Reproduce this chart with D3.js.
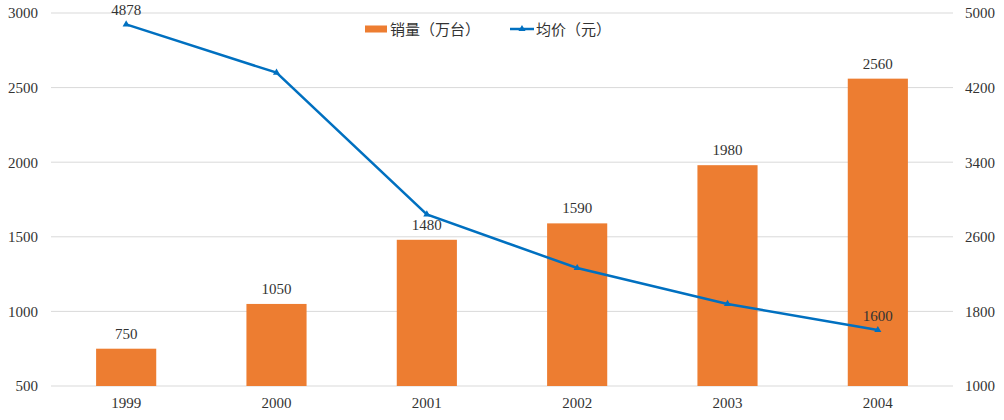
<!DOCTYPE html>
<html>
<head>
<meta charset="utf-8">
<script src="https://cdn.jsdelivr.net/npm/d3@7"></script>
<style>
  body { margin: 0; background: #fff; }
</style>
</head>
<body>
<div id="container"></div>
<script>
// data
let years = ["1999", "2000", "2001", "2002", "2003", "2004"];
let sales = [750, 1050, 1480, 1590, 1980, 2560];      // 销量（万台）
let prices = [4878, 4360, 2840, 2265, 1880, 1600];    // 均价（元）
let leftTicks = [500, 1000, 1500, 2000, 2500, 3000];
let rightTicks = [1000, 1800, 2600, 3400, 4200, 5000];
let priceLabelIdx = [0, 5];   // only first and last points are labelled

let w = 1004;
let h = 420;
let plotLeft = 51, plotRight = 953, plotTop = 13, plotBottom = 386;
let numFont = "Liberation Serif";
let numSize = 15;
let txtColor = "#333";

let viz = d3.select("#container")
  .append("svg")
    .attr("width", w)
    .attr("height", h);

let xScale = d3.scaleBand().domain(years).range([plotLeft, plotRight]).paddingInner(0.6).paddingOuter(0.3);
let yLeft = d3.scaleLinear().domain([500, 3000]).range([plotBottom, plotTop]);
let yRight = d3.scaleLinear().domain([1000, 5000]).range([plotBottom, plotTop]);

// gridlines
viz.append("g")
  .selectAll("line").data(leftTicks).enter()
  .append("line")
    .attr("x1", plotLeft).attr("x2", plotRight)
    .attr("y1", d => yLeft(d)).attr("y2", d => yLeft(d))
    .style("stroke", "#d9d9d9")
    .style("stroke-width", 1);

function styleAxis(g) {
  g.attr("font-family", numFont).attr("font-size", numSize);
  g.select(".domain").remove();
  g.selectAll("text").attr("fill", txtColor);
}

// left axis
let leftAxis = d3.axisLeft(yLeft).tickValues(leftTicks).tickFormat(d3.format("d")).tickSize(0).tickPadding(13);
viz.append("g").attr("transform", "translate(" + plotLeft + ",0)").call(leftAxis).call(styleAxis);

// right axis
let rightAxis = d3.axisRight(yRight).tickValues(rightTicks).tickFormat(d3.format("d")).tickSize(0).tickPadding(12);
viz.append("g").attr("transform", "translate(" + plotRight + ",0)").call(rightAxis).call(styleAxis);

// bottom axis
let bottomAxis = d3.axisBottom(xScale).tickSize(0).tickPadding(11);
viz.append("g").attr("transform", "translate(0," + plotBottom + ")").call(bottomAxis).call(styleAxis);

// bars
viz.append("g")
  .selectAll("rect").data(sales).enter()
  .append("rect")
    .attr("x", (d, i) => xScale(years[i]))
    .attr("width", xScale.bandwidth())
    .attr("y", d => yLeft(d))
    .attr("height", d => plotBottom - yLeft(d))
    .style("fill", "#ed7d31");

viz.append("g")
  .attr("font-family", numFont).attr("font-size", numSize)
  .selectAll("text").data(sales).enter()
  .append("text")
    .attr("x", (d, i) => xScale(years[i]) + xScale.bandwidth() / 2)
    .attr("y", d => yLeft(d) - 10)
    .attr("text-anchor", "middle")
    .attr("fill", txtColor)
    .text(d => d);

// line
let cx = (d, i) => xScale(years[i]) + xScale.bandwidth() / 2;
let line = d3.line().x(cx).y(d => yRight(d));
viz.append("path")
  .datum(prices)
  .attr("d", line)
  .style("fill", "none")
  .style("stroke", "#0070c0")
  .style("stroke-width", 2.5);

let tri = d3.symbol().type(d3.symbolTriangle).size(22);
viz.append("g")
  .selectAll("path").data(prices).enter()
  .append("path")
    .attr("d", tri)
    .attr("transform", (d, i) => "translate(" + cx(d, i) + "," + yRight(d) + ")")
    .style("fill", "#0070c0");

viz.append("g")
  .attr("font-family", numFont).attr("font-size", numSize)
  .selectAll("text").data(priceLabelIdx).enter()
  .append("text")
    .attr("x", i => cx(prices[i], i))
    .attr("y", i => yRight(prices[i]) - 9)
    .attr("text-anchor", "middle")
    .attr("fill", txtColor)
    .text(i => prices[i]);

// legend
let legend = viz.append("g").attr("transform", "translate(365,29)")
  .attr("font-family", "'Noto Sans CJK SC'").attr("font-size", 15);
legend.append("rect")
  .attr("x", 0).attr("y", -3.5).attr("width", 22).attr("height", 7)
  .style("fill", "#ed7d31");
legend.append("text")
  .attr("x", 25).attr("y", 5.5)
  .attr("fill", txtColor)
  .text("销量（万台）");
legend.append("line")
  .attr("x1", 145).attr("x2", 169).attr("y1", 0).attr("y2", 0)
  .style("stroke", "#0070c0").style("stroke-width", 2.5);
legend.append("path")
  .attr("d", tri)
  .attr("transform", "translate(157,0)")
  .style("fill", "#0070c0");
legend.append("text")
  .attr("x", 171).attr("y", 5.5)
  .attr("fill", txtColor)
  .text("均价（元）");
</script>
</body>
</html>
